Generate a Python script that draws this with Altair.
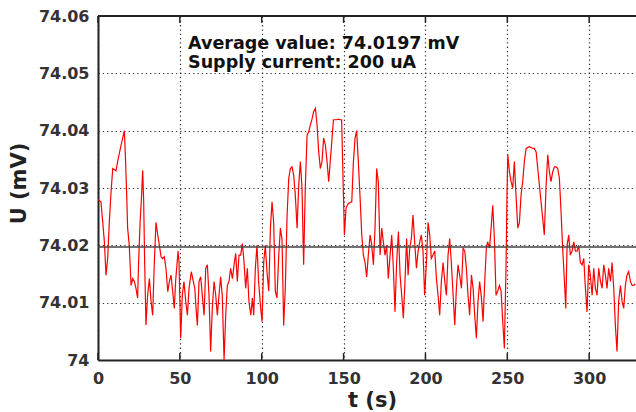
import altair as alt
import pandas as pd

# time (s) and voltage (mV)
t_values = [
    0.0, 1.8, 2.9, 3.9, 4.9, 5.9, 6.9, 7.9, 9.0, 11.0, 12.0, 13.0, 14.1, 16.1, 16.7, 17.5, 18.1, 19.1,
    20.2, 21.2, 22.2, 23.2, 24.2, 24.8, 25.7, 26.5, 27.3, 27.9, 28.5, 29.3, 30.3, 31.4, 32.4, 33.4,
    34.4, 35.4, 36.5, 37.5, 38.5, 39.5, 40.5, 41.5, 42.6, 43.6, 44.6, 45.6, 46.6, 47.4, 48.9, 49.5,
    50.5, 51.5, 52.5, 53.6, 54.6, 55.6, 57.0, 58.2, 59.1, 59.9, 60.7, 61.7, 62.7, 63.7, 64.8, 65.8,
    66.8, 67.8, 68.8, 69.8, 70.9, 71.9, 72.9, 73.9, 74.9, 75.9, 77.0, 78.0, 79.0, 80.0, 81.0, 82.1,
    83.1, 84.1, 85.1, 86.1, 87.1, 88.2, 89.2, 90.2, 91.2, 92.2, 93.3, 94.3, 95.1, 96.1, 97.1, 98.1,
    99.2, 100.2, 101.2, 102.2, 103.2, 104.3, 105.3, 106.3, 107.3, 108.3, 109.3, 110.4, 111.4, 112.4,
    113.4, 114.4, 115.5, 116.5, 117.5, 118.5, 119.5, 120.5, 121.6, 122.6, 123.6, 124.6, 125.6, 126.6,
    127.7, 128.7, 129.7, 130.7, 131.7, 132.8, 133.8, 134.8, 135.8, 136.8, 137.8, 138.9, 139.9, 140.9,
    142.5, 143.8, 145.8, 146.8, 147.8, 148.8, 149.9, 150.5, 151.5, 152.9, 155.0, 156.0, 157.0, 158.0,
    159.0, 160.0, 161.1, 162.1, 163.1, 164.1, 165.1, 166.2, 167.2, 168.2, 169.2, 170.2, 171.2, 172.3,
    173.3, 174.3, 175.3, 176.3, 177.3, 178.4, 179.4, 180.4, 181.4, 182.4, 183.5, 184.5, 185.5, 186.5,
    187.5, 188.5, 189.4, 190.4, 191.4, 192.4, 193.4, 194.5, 195.5, 196.5, 197.5, 198.5, 199.5, 200.6,
    201.6, 202.6, 203.6, 204.6, 205.7, 206.7, 207.7, 208.7, 209.7, 210.8, 211.8, 212.8, 213.8, 214.8,
    215.8, 216.9, 217.9, 218.9, 219.9, 220.9, 222.0, 223.0, 224.0, 225.0, 226.0, 227.0, 228.1, 229.1,
    230.1, 231.1, 232.1, 233.1, 234.2, 235.2, 236.2, 237.2, 238.0, 239.1, 240.1, 241.1, 242.1, 243.1,
    244.1, 245.2, 246.2, 247.2, 248.2, 249.2, 249.8, 250.3, 251.3, 252.3, 253.3, 254.3, 255.3, 256.4,
    257.4, 258.4, 259.4, 260.4, 261.5, 263.5, 265.5, 266.5, 267.6, 268.6, 269.6, 270.6, 271.6, 272.6,
    273.7, 274.7, 275.7, 276.7, 277.7, 278.8, 279.8, 280.8, 281.8, 282.8, 283.8, 284.9, 285.7, 286.5,
    287.5, 288.5, 289.6, 290.6, 291.6, 292.6, 293.6, 294.6, 295.7, 296.7, 297.7, 298.7, 299.7, 300.7,
    301.8, 302.8, 303.8, 304.8, 305.8, 306.9, 307.9, 308.9, 309.9, 310.9, 311.9, 313.0, 314.0, 315.0,
    316.0, 317.0, 318.0, 319.1, 320.1, 321.1, 322.1, 323.1, 324.1, 325.2, 326.2, 327.2, 328.2,
]
u_values = [
    74.0280, 74.0276, 74.0240, 74.0206, 74.0148, 74.0177, 74.0240, 74.0290, 74.0334, 74.0330, 74.0346, 74.0360, 74.0375, 74.0400, 74.0358, 74.0290, 74.0230, 74.0200,
    74.0130, 74.0142, 74.0137, 74.0125, 74.0108, 74.0171, 74.0240, 74.0280, 74.0331, 74.0276, 74.0170, 74.0061, 74.0113, 74.0142, 74.0102, 74.0078,
    74.0170, 74.0240, 74.0218, 74.0200, 74.0180, 74.0177, 74.0180, 74.0160, 74.0119, 74.0137, 74.0148, 74.0120, 74.0090, 74.0137, 74.0190, 74.0170,
    74.0038, 74.0113, 74.0137, 74.0102, 74.0078, 74.0125, 74.0154, 74.0137, 74.0125, 74.0090, 74.0060, 74.0137, 74.0145, 74.0113, 74.0078, 74.0160,
    74.0166, 74.0113, 74.0015, 74.0090, 74.0137, 74.0113, 74.0078, 74.0113, 74.0145, 74.0113, 74.0000, 74.0078, 74.0130, 74.0137, 74.0160, 74.0142,
    74.0166, 74.0186, 74.0137, 74.0183, 74.0183, 74.0203, 74.0170, 74.0125, 74.0160, 74.0102, 74.0078, 74.0108, 74.0078, 74.0160, 74.0200, 74.0137,
    74.0096, 74.0067, 74.0170, 74.0200, 74.0154, 74.0120, 74.0230, 74.0276, 74.0240, 74.0120, 74.0108, 74.0183, 74.0230, 74.0210,
    74.0060, 74.0125, 74.0253, 74.0317, 74.0334, 74.0337, 74.0323, 74.0288, 74.0230, 74.0305, 74.0346, 74.0300, 74.0166, 74.0300,
    74.0392, 74.0398, 74.0410, 74.0420, 74.0433, 74.0439, 74.0410, 74.0363, 74.0334, 74.0346, 74.0387, 74.0375, 74.0346, 74.0311,
    74.0370, 74.0419, 74.0419, 74.0420, 74.0419, 74.0419, 74.0288, 74.0218, 74.0265, 74.0273, 74.0276, 74.0346, 74.0387, 74.0400,
    74.0346, 74.0288, 74.0218, 74.0183, 74.0170, 74.0145, 74.0183, 74.0218, 74.0200, 74.0166, 74.0230, 74.0334, 74.0311, 74.0183,
    74.0230, 74.0206, 74.0183, 74.0200, 74.0142, 74.0183, 74.0218, 74.0160, 74.0084, 74.0170, 74.0224, 74.0148, 74.0113, 74.0073,
    74.0137, 74.0212, 74.0148, 74.0195, 74.0212, 74.0253, 74.0206, 74.0160, 74.0190, 74.0206, 74.0218, 74.0190, 74.0113, 74.0170,
    74.0240, 74.0218, 74.0177, 74.0183, 74.0190, 74.0142, 74.0113, 74.0078, 74.0137, 74.0170, 74.0137, 74.0113, 74.0183, 74.0212,
    74.0170, 74.0113, 74.0061, 74.0125, 74.0166, 74.0148, 74.0125, 74.0195, 74.0190, 74.0160, 74.0113, 74.0078, 74.0148, 74.0125,
    74.0078, 74.0038, 74.0102, 74.0137, 74.0108, 74.0067, 74.0137, 74.0195, 74.0206, 74.0195, 74.0230, 74.0270, 74.0212, 74.0113,
    74.0120, 74.0130, 74.0120, 74.0067, 74.0020, 74.0160, 74.0288, 74.0358, 74.0328, 74.0311, 74.0300, 74.0346, 74.0288, 74.0230,
    74.0240, 74.0288, 74.0311, 74.0346, 74.0369, 74.0372, 74.0369, 74.0369, 74.0363, 74.0334, 74.0305, 74.0276, 74.0247, 74.0218,
    74.0305, 74.0358, 74.0328, 74.0311, 74.0328, 74.0337, 74.0337, 74.0334, 74.0317, 74.0260, 74.0195, 74.0137, 74.0090, 74.0200,
    74.0218, 74.0183, 74.0190, 74.0206, 74.0190, 74.0190, 74.0200, 74.0170, 74.0166, 74.0177, 74.0125, 74.0084, 74.0166, 74.0148,
    74.0113, 74.0160, 74.0125, 74.0113, 74.0160, 74.0137, 74.0125, 74.0166, 74.0148, 74.0125, 74.0160, 74.0137, 74.0170, 74.0125,
    74.0060, 74.0015, 74.0102, 74.0130, 74.0102, 74.0090, 74.0130, 74.0148, 74.0154, 74.0137, 74.0130, 74.0130, 74.0133,
]

average_value = 74.0197
x_ticks = [0, 50, 100, 150, 200, 250, 300]
y_ticks = [74.0, 74.01, 74.02, 74.03, 74.04, 74.05, 74.06]
x_domain = [0, 328.6]
y_domain = [74.0, 74.06]
note_lines = ["Average value: 74.0197 mV", "Supply current: 200 uA"]
note_t = [55.0, 55.0]
note_u = [74.05416, 74.05093]

df = pd.DataFrame({"t": t_values, "u": u_values})
ticks_df = pd.DataFrame({"t": x_ticks})
notes_df = pd.DataFrame({"t": note_t, "u": note_u, "text": note_lines})

FONT = "DejaVu Sans"

x_scale = alt.Scale(domain=x_domain, nice=False, zero=False)
y_scale = alt.Scale(domain=y_domain, nice=False, zero=False)

x_axis = alt.Axis(
    values=x_ticks, title="t (s)", grid=True, ticks=False, labelFlush=False,
    labelPadding=10, labelOverlap=False,
    titleX=274, titleY=46, titleAlign="center", titleBaseline="alphabetic",
)
y_axis = alt.Axis(
    values=y_ticks, title="U (mV)", grid=True, ticks=False, format=".2~f",
    labelPadding=9, labelOverlap=False, labelFlush=False,
    titleX=-73, titleY=167, titleAlign="center", titleBaseline="alphabetic", titleAngle=270,
)

line = alt.Chart(df).mark_line(color="#ff0000", strokeWidth=1.2, clip=True).encode(
    x=alt.X("t:Q", scale=x_scale, axis=x_axis),
    y=alt.Y("u:Q", scale=y_scale, axis=y_axis),
)

avg = alt.Chart().mark_rule(color="#444444", strokeWidth=1.6).encode(
    y=alt.datum(average_value, scale=y_scale)
)

top_border = alt.Chart().mark_rule(color="#222222", strokeWidth=2).encode(
    y=alt.datum(74.06, scale=y_scale)
)

bottom_ticks = alt.Chart(ticks_df).mark_rule(color="#222222", strokeWidth=1.5).encode(
    x=alt.X("t:Q", scale=x_scale),
    y=alt.datum(74.0),
    y2=alt.datum(74.0012),
)
top_ticks = alt.Chart(ticks_df).mark_rule(color="#222222", strokeWidth=1.5).encode(
    x=alt.X("t:Q", scale=x_scale),
    y=alt.datum(74.06),
    y2=alt.datum(74.0588),
)

notes = alt.Chart(notes_df).mark_text(
    font=FONT, fontSize=17.5, fontWeight="bold", color="#111111", align="left", baseline="alphabetic"
).encode(
    x=alt.X("t:Q", scale=x_scale),
    y=alt.Y("u:Q", scale=y_scale),
    text="text:N",
)

chart = alt.layer(line, avg, top_border, bottom_ticks, top_ticks, notes).properties(
    width=538, height=344,
    padding={"left": 98, "top": 16, "right": 0, "bottom": 52},
    autosize=alt.AutoSizeParams(type="none"),
    background="white",
).configure_view(stroke=None).configure_axis(
    domainColor="#222222", domainWidth=2,
    gridColor="#333333", gridWidth=1.2, gridDash=[1.3, 3], gridOpacity=1,
    labelFont=FONT, labelFontSize=16, labelFontWeight="bold", labelColor="#333333",
    titleFont=FONT, titleFontSize=21, titleFontWeight="bold", titleColor="#222222",
)

chart.save("out.html", embed_options={"renderer": "svg", "actions": False})
